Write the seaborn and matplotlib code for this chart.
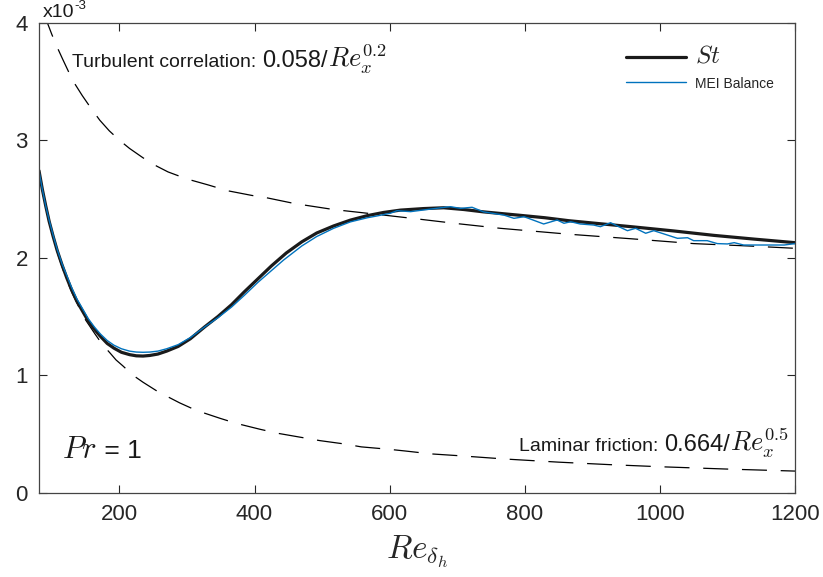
import numpy as np
import pandas as pd
import matplotlib
matplotlib.use("Agg")
import matplotlib.pyplot as plt
import matplotlib.transforms as mtransforms
import seaborn as sns

# Stanton number (values in units of 1e-3)
st_re = [81, 86, 91, 96, 102, 108, 115, 122, 129, 137, 145, 154, 163, 172, 182,
         192, 203, 215, 225, 235, 245, 257, 270, 287, 305, 326, 346, 366, 385,
         405, 425, 447, 470, 492, 517, 542, 567, 591, 616, 650, 680, 710, 739,
         789, 830, 865, 910, 961, 1020, 1080, 1140, 1200]
st_val = [2.74, 2.58, 2.44, 2.31, 2.18, 2.06, 1.94, 1.83, 1.73, 1.63, 1.55,
          1.46, 1.39, 1.33, 1.27, 1.23, 1.195, 1.175, 1.165, 1.163, 1.168,
          1.18, 1.205, 1.245, 1.31, 1.41, 1.50, 1.60, 1.71, 1.82, 1.93, 2.04,
          2.135, 2.21, 2.27, 2.32, 2.358, 2.385, 2.405, 2.418, 2.425, 2.41,
          2.39, 2.363, 2.34, 2.315, 2.29, 2.262, 2.228, 2.19, 2.158, 2.128]

# MEI balance
mei_re = [81, 86, 91, 96, 102, 108, 115, 122, 129, 137, 145, 154, 163, 172, 182,
          192, 203, 215, 225, 235, 245, 257, 270, 287, 305, 326, 346, 366, 385,
          405, 425, 443, 470, 492, 517, 542, 567, 581, 601, 611, 631, 650, 680,
          690, 705, 722, 739, 769, 784, 799, 828, 848, 858, 868, 882, 902, 912,
          927, 937, 952, 964, 979, 991, 1011, 1026, 1041, 1050, 1070, 1085,
          1100, 1110, 1124, 1159, 1184, 1200]
mei_val = [2.74, 2.58, 2.44, 2.32, 2.19, 2.07, 1.95, 1.85, 1.75, 1.65, 1.57,
           1.48, 1.41, 1.35, 1.295, 1.255, 1.225, 1.205, 1.197, 1.195, 1.197,
           1.205, 1.225, 1.26, 1.32, 1.41, 1.49, 1.58, 1.68, 1.79, 1.89, 1.98,
           2.10, 2.18, 2.25, 2.305, 2.34, 2.355, 2.378, 2.40, 2.392, 2.406,
           2.428, 2.434, 2.42, 2.429, 2.39, 2.363, 2.335, 2.349, 2.287, 2.321,
           2.293, 2.306, 2.287, 2.278, 2.264, 2.298, 2.27, 2.23, 2.25, 2.208,
           2.23, 2.193, 2.165, 2.17, 2.145, 2.145, 2.12, 2.117, 2.128, 2.108,
           2.108, 2.108, 2.12]

# turbulent correlation (dashed)
turb_re = [88, 94, 100, 108, 116, 125, 134, 145, 157, 171, 185, 200, 215, 235,
           255, 272, 300, 331, 360, 396, 418, 460, 517, 580, 641, 700, 764, 865,
           960, 1050, 1130, 1200]
turb_val = [4.08, 3.99, 3.90, 3.79, 3.69, 3.58, 3.48, 3.38, 3.28, 3.17, 3.08,
            3.00, 2.93, 2.85, 2.78, 2.73, 2.67, 2.62, 2.57, 2.53, 2.51, 2.46,
            2.41, 2.37, 2.33, 2.29, 2.25, 2.20, 2.16, 2.12, 2.10, 2.08]

# laminar friction (dashed)
lam_re = [81, 88, 95, 102, 110, 120, 130, 140, 150, 164, 175, 186, 195, 205,
          220, 235, 257, 289, 314, 349, 373, 408, 435, 472, 497, 534, 558, 598,
          623, 662, 702, 770, 850, 925, 1000, 1100, 1200]
lam_val = [2.73, 2.51, 2.33, 2.17, 2.01, 1.84, 1.70, 1.58, 1.47, 1.35, 1.26,
           1.19, 1.13, 1.08, 1.00, 0.94, 0.86, 0.765, 0.70, 0.633, 0.59, 0.54,
           0.505, 0.468, 0.443, 0.414, 0.39, 0.37, 0.355, 0.33, 0.315, 0.287,
           0.26, 0.239, 0.221, 0.201, 0.184]

sns.set_theme(style="ticks")
plt.rcParams['font.family'] = ['Liberation Sans', 'DejaVu Sans']
plt.rcParams['mathtext.fontset'] = 'cm'

fig = plt.figure(figsize=(8.23, 5.77), dpi=100)
ax = fig.add_axes([39 / 823, (577 - 492.7) / 577, (795 - 39) / 823, (492.7 - 22.7) / 577])

sns.lineplot(x=turb_re, y=turb_val, ax=ax, color='black', lw=0.9, sort=False)
ax.lines[-1].set_dashes((20, 11))
sns.lineplot(x=lam_re, y=lam_val, ax=ax, color='black', lw=0.9, sort=False)
ax.lines[-1].set_dashes((20, 11))
sns.lineplot(x=st_re, y=st_val, ax=ax, color='#1a1a1a', lw=2.3, sort=False,
             label=r'$St$')
sns.lineplot(x=mei_re, y=mei_val, ax=ax, color='#0072BD', lw=1.0, sort=False,
             label='MEI Balance')

ax.set_xlim(81, 1200)
ax.set_ylim(0, 4)
ax.set_xticks([200, 400, 600, 800, 1000, 1200])
ax.set_yticks([0, 1, 2, 3, 4])
ax.tick_params(direction='in', length=6, width=0.8, top=True, right=True,
               labelsize=16, colors='#262626', pad=8)
for s in ax.spines.values():
    s.set_color('#444444')
    s.set_linewidth(0.9)

ax.set_xlabel(r'$Re_{\delta_h}$', fontsize=24, labelpad=6)
ax.set_ylabel('')


def chain(x, y, parts):
    # write pieces of text one after another on the same baseline
    for s, size, dy in parts:
        tr = mtransforms.offset_copy(ax.transAxes, fig=fig, x=0, y=dy, units='points')
        t = ax.text(x, y, s, fontsize=size, transform=tr,
                    ha='left', va='baseline', color='#1a1a1a', clip_on=False)
        fig.canvas.draw()
        bb = t.get_window_extent()
        x = ax.transAxes.inverted().transform((bb.x1, bb.y0))[0]


chain(0.005, 1.012, [('x10', 14, 0), ('-3', 9.5, 6)])
chain(0.044, 0.905, [('Turbulent correlation: ', 14, 0), ('0.058/', 17, 0),
                     (r'$Re_{x}^{0.2}$', 19, 0)])
chain(0.635, 0.088, [('Laminar friction: ', 14, 0), ('0.664/', 17, 0),
                     (r'$Re_{x}^{0.5}$', 19, 0)])
chain(0.030, 0.073, [(r'$Pr$', 22, 0), (' = 1', 19, 0)])

leg = ax.legend(loc='upper right', frameon=False, handlelength=3.9,
                bbox_to_anchor=(0.99, 0.985), labelspacing=0.6, handletextpad=0.6)
leg.get_texts()[0].set_fontsize(18)
leg.get_texts()[1].set_fontsize(10)

fig.savefig('out.png', dpi=100)
